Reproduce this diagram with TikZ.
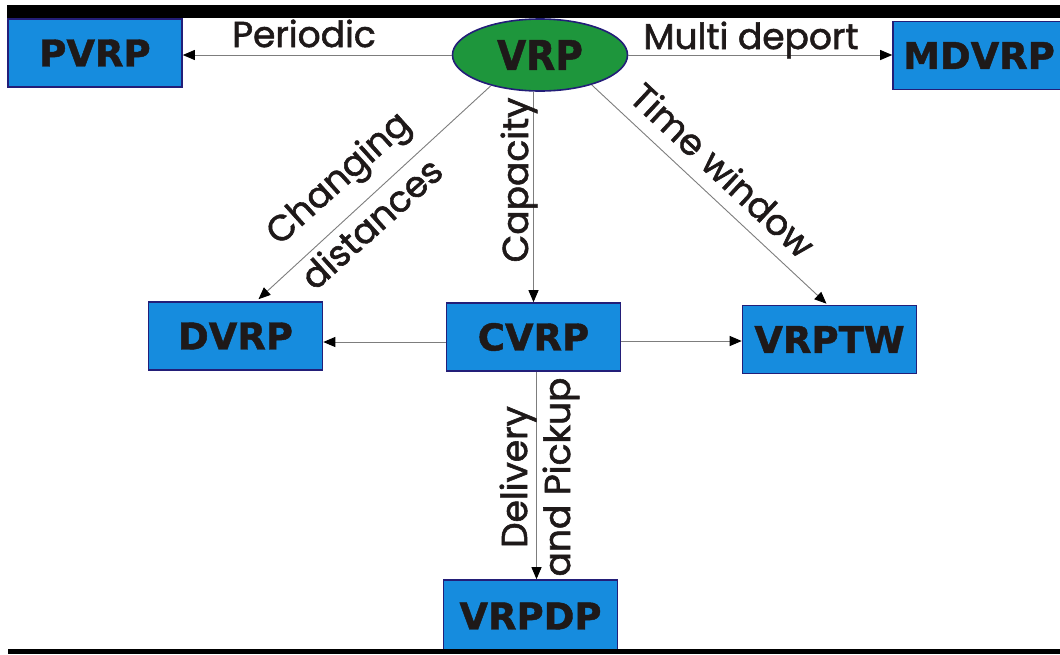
\documentclass[tikz,border=0pt]{standalone}
\usepackage{fontspec}
\setmainfont{Poppins}[FakeBold=1.6]
\newfontfamily\boxfont{DejaVu Sans}[BoldFeatures={FakeBold=1.2}]
\usetikzlibrary{arrows.meta,shapes.geometric,calc}

\definecolor{boxblue}{RGB}{22,140,222}
\definecolor{navyedge}{RGB}{35,30,120}
\definecolor{vrpgreen}{RGB}{30,150,60}
\definecolor{inkdark}{RGB}{30,25,25}
\definecolor{linegray}{RGB}{125,125,125}

\tikzset{
  boxnode/.style={draw=navyedge, line width=1.6pt, fill=boxblue, inner sep=0pt,
    minimum width=174pt, minimum height=68pt, text=inkdark,
    font=\boxfont\bfseries\fontsize{37}{40}\selectfont},
  vrpnode/.style={ellipse, draw=navyedge, line width=1.6pt, fill=vrpgreen, inner sep=0pt,
    minimum width=175pt, minimum height=72pt, text=inkdark,
    font=\boxfont\bfseries\fontsize{41}{44}\selectfont},
  lab/.style={inner sep=0pt, text=inkdark, font=\fontsize{36}{40}\selectfont},
  arr/.style={draw=linegray, line width=0.9pt,
    -{Triangle[length=12pt,width=10pt,color=black]}}
}

\begin{document}
\begin{tikzpicture}[x=1pt,y=-1pt]
\useasboundingbox (0,0) rectangle (1060,654);

% problem classes
\node[vrpnode] (vrp) at (540,55) {\scalebox{0.92}[1]{VRP}};
\node[boxnode] (pvrp) at (95,53) {PVRP};
\node[boxnode, minimum width=172pt] (mdvrp) at (979,55.5) {MDVRP};
\node[boxnode] (dvrp) at (235.5,336) {DVRP};
\node[boxnode] (cvrp) at (533.5,337) {CVRP};
\node[boxnode] (vrptw) at (829.5,339.5) {VRPTW};
\node[boxnode, minimum height=72pt] (vrpdp) at (530.5,616) {VRPDP};

% extensions of the basic problem
\coordinate (dtip) at ($(dvrp.north)+(23,-2)$);
\coordinate (ttip) at ($(vrptw.north)+(-3,-1)$);
\draw[arr] (vrp.west) -- (vrp.west -| pvrp.east);
\draw[arr] (vrp.east) -- (vrp.east -| mdvrp.west);
\draw[arr] (vrp.212) -- (dtip);
\draw[arr] (vrp.south -| cvrp.north) -- (cvrp.north);
\draw[arr] (vrp.-30) -- (ttip);
\draw[arr] ([yshift=-5pt]cvrp.west) -- ([yshift=-5pt]cvrp.west -| dvrp.east);
\draw[arr] ([yshift=-4pt]cvrp.east) -- ([yshift=-4pt]cvrp.east -| vrptw.west);
\draw[arr] ([xshift=3pt]cvrp.south) -- ([xshift=3pt]cvrp.south |- vrpdp.north);

% edge labels
\node[lab, anchor=base] (lper) at (304,47) {Periodic};
\node[lab, anchor=base] (lmd) at (751,49) {Multi deport};
\node[lab, rotate=42] (lch) at (340,180) {Changing};
\node[lab, rotate=42] (ldi) at (371,223) {distances};
\node[lab, rotate=90, anchor=base] (lcap) at (528,180) {Capacity};
\node[lab, rotate=-43] (ltw) at (723,170) {Time window};
\node[lab, rotate=90, anchor=base] (ldel) at (527,477) {Delivery};
\node[lab, rotate=90, anchor=base] (lpick) at (570,477) {and Pickup};

% frame bars
\fill[black] (7,5) rectangle (1060,17.5);
\fill[black] (8,649) rectangle (1060,654);
\end{tikzpicture}
\end{document}
